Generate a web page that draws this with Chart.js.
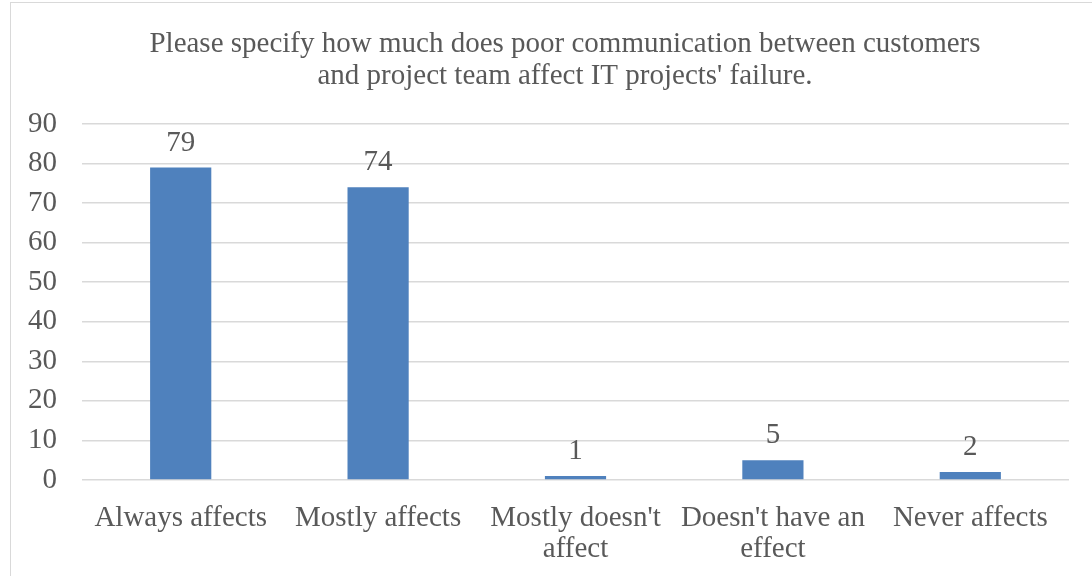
<!DOCTYPE html>
<html>
<head>
<meta charset="utf-8">
<script src="https://cdn.jsdelivr.net/npm/chart.js@4"></script>
<style>
    html, body { margin: 0; padding: 0; background: #fff; overflow: hidden; }
    #frame {
        position: absolute; left: 10px; top: 2px; width: 1200px; height: 700px;
        border: 1px solid #D9D9D9; box-sizing: border-box;
    }
    #wrap { position: absolute; left: 0; top: 0; width: 1092px; height: 576px; }
</style>
</head>
<body>
<div id="frame"></div>
<div id="wrap"><canvas id="chart" width="1092" height="576"></canvas></div>
<script>
// chart data
const titleLines = [
    'Please specify how much does poor communication between customers',
    "and project team affect IT projects' failure."
];
const categories = [
    'Always affects',
    'Mostly affects',
    ["Mostly doesn't", 'affect'],
    ["Doesn't have an", 'effect'],
    'Never affects'
];
const responses = [79, 74, 1, 5, 2];
const yMin = 0;
const yMax = 90;
const yStep = 10;

const FONT = '"Liberation Serif", "Times New Roman", serif';
const TEXT_COLOR = '#595959';

// title + value labels drawn on the canvas
const labelPlugin = {
    id: 'labels',
    afterDatasetsDraw(chart) {
        const ctx = chart.ctx;
        ctx.save();
        ctx.fillStyle = TEXT_COLOR;
        ctx.font = '29px ' + FONT;
        ctx.textAlign = 'center';
        ctx.textBaseline = 'middle';
        titleLines.forEach((line, i) => ctx.fillText(line, 565, 44 + i * 32));

        ctx.textBaseline = 'alphabetic';
        chart.getDatasetMeta(0).data.forEach((bar, i) => {
            ctx.fillText(String(responses[i]), bar.x, bar.y - 17);
        });
        ctx.restore();
    }
};

new Chart(document.getElementById('chart'), {
    type: 'bar',
    data: {
        labels: categories,
        datasets: [{
            data: responses,
            backgroundColor: '#4F81BD',
            borderWidth: 0,
            categoryPercentage: 1,
            barPercentage: 0.31
        }]
    },
    options: {
        responsive: false,
        animation: false,
        layout: { padding: { top: 124, right: 23, left: 0, bottom: 0 } },
        plugins: {
            legend: { display: false },
            tooltip: { enabled: false }
        },
        scales: {
            x: {
                afterFit: (scale) => { scale.height = 96; },
                grid: { display: false, drawTicks: false },
                border: { display: false },
                ticks: {
                    color: TEXT_COLOR,
                    font: { family: FONT, size: 29, lineHeight: 1.1 },
                    padding: 22,
                    maxRotation: 0,
                    autoSkip: false
                }
            },
            y: {
                min: yMin,
                max: yMax,
                afterFit: (scale) => { scale.width = 82; },
                grid: { color: '#D9D9D9', lineWidth: 1.5, drawTicks: false },
                border: { display: false },
                ticks: {
                    stepSize: yStep,
                    color: TEXT_COLOR,
                    font: { family: FONT, size: 29 },
                    padding: 25
                }
            }
        }
    },
    plugins: [labelPlugin]
});
</script>
</body>
</html>
